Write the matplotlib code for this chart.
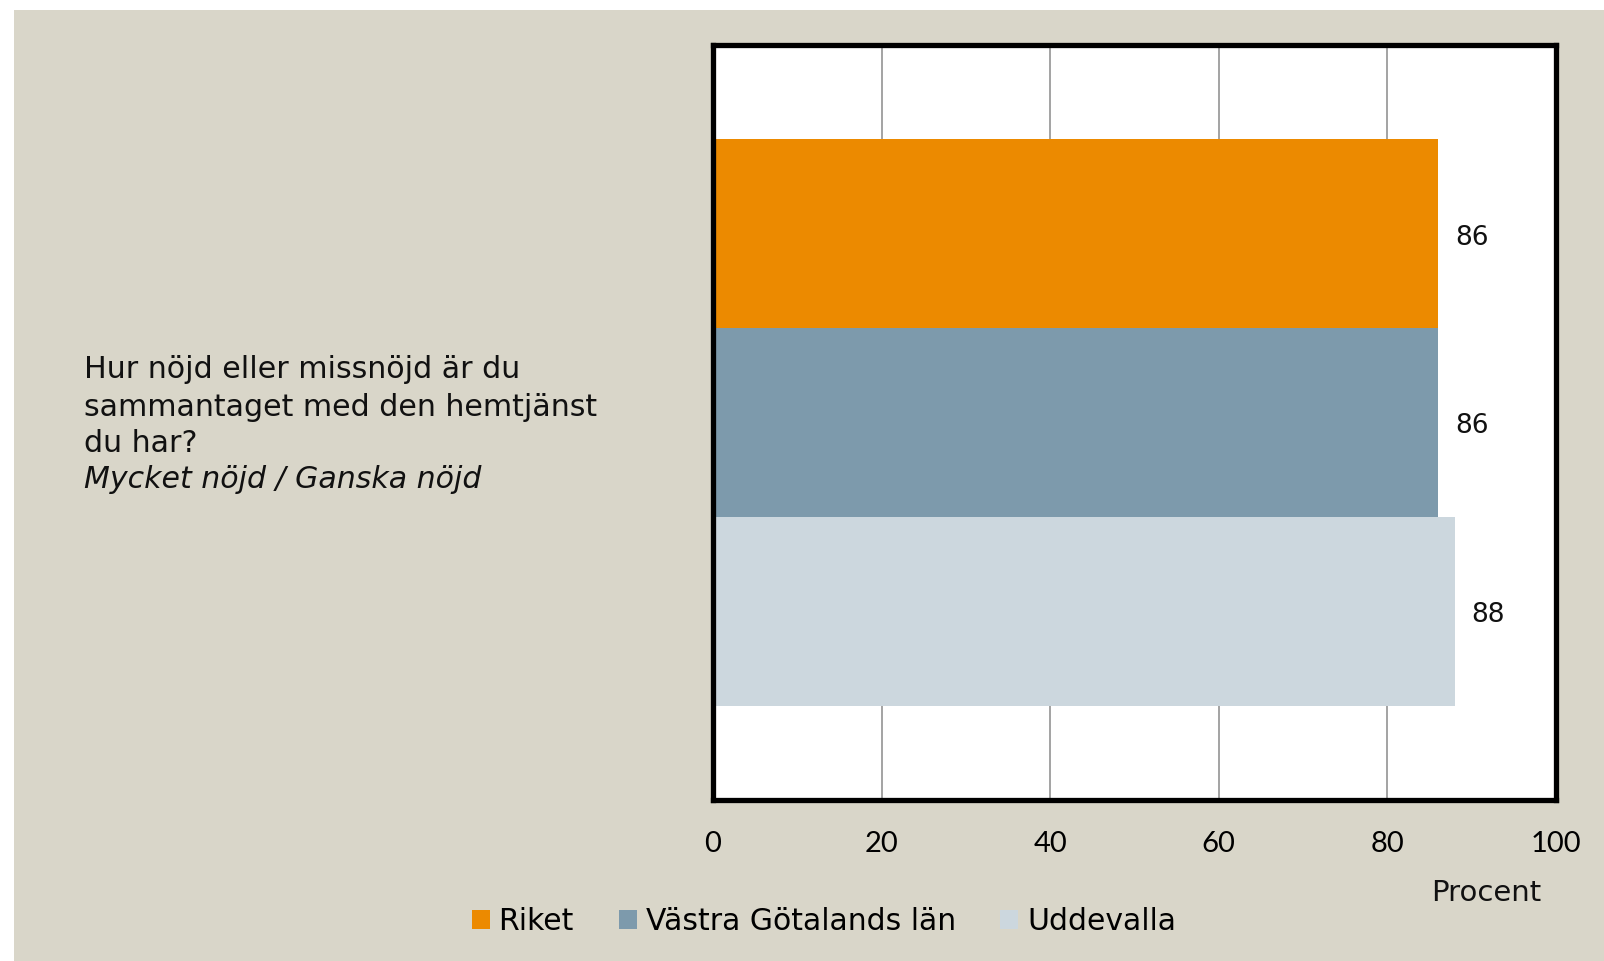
import matplotlib
matplotlib.use('Agg')
import matplotlib.pyplot as plt
from matplotlib.patches import Rectangle

# data
series = ['Riket', 'Västra Götalands län', 'Uddevalla']
values = [86, 86, 88]
colors = ['#EC8A00', '#7D9AAC', '#CCD7DE']
xticks = [0, 20, 40, 60, 80, 100]
question = ['Hur nöjd eller missnöjd är du', 'sammantaget med den hemtjänst', 'du har?']
subtitle = 'Mycket nöjd / Ganska nöjd'

plt.rcParams['font.family'] = ['DejaVu Sans']
wide = ['DejaVu Sans']
narrow = ['Lato', 'DejaVu Sans']

fig = plt.figure(figsize=(16.04, 9.61), dpi=100)
fig.patch.set_facecolor('white')
fig.patches.append(Rectangle((14 / 1604, 0), 1, 1 - 10 / 961, transform=fig.transFigure,
                             facecolor='#D9D6C9', edgecolor='none', zorder=-10))

ax = fig.add_axes([713 / 1604, 1 - 800 / 961, (1556 - 713) / 1604, (800 - 45) / 961])
ax.set_facecolor('white')

bars = []
for i, (name, v, c) in enumerate(zip(series, values, colors)):
    b = ax.barh(i, v, height=1.0, color=c, label=name, zorder=2)
    bars.append(b)
    ax.text(v + 2, i + 0.02, str(v), ha='left', va='center', fontsize=19, color='#111111',
            family=wide)

ax.set_xlim(0, 100)
ax.set_ylim(3, -1)
ax.set_xticks(xticks)
ax.set_xticklabels([str(t) for t in xticks], fontsize=21, family=narrow)
ax.set_yticks([])
ax.tick_params(axis='x', length=0, pad=22)
ax.grid(axis='x', color='#8a8a8a', linewidth=1.1, zorder=1)
for s in ax.spines.values():
    s.set_linewidth(3.8)
    s.set_color('black')

# question text, one line at a time
line_y = [370, 407, 444]
for txt, y in zip(question, line_y):
    fig.text(84 / 1604, 1 - y / 961, txt, ha='left', va='center', fontsize=21.6,
             color='#111111', family=wide)
fig.text(84 / 1604, 1 - 480 / 961, subtitle, ha='left', va='center', fontsize=21.6,
         style='italic', color='#111111', family=wide)

fig.text(1541 / 1604, 1 - 893 / 961, 'Procent', ha='right', va='center', fontsize=21,
         color='#111111', family=wide)

fig.legend(handles=bars, labels=series, loc='center', bbox_to_anchor=(824 / 1604, 1 - 922 / 961),
           ncol=3, frameon=False, prop={'family': wide, 'size': 21.5}, handlelength=0.6,
           handleheight=0.6, handletextpad=0.3, columnspacing=1.5)

fig.savefig('out.png', dpi=100)
